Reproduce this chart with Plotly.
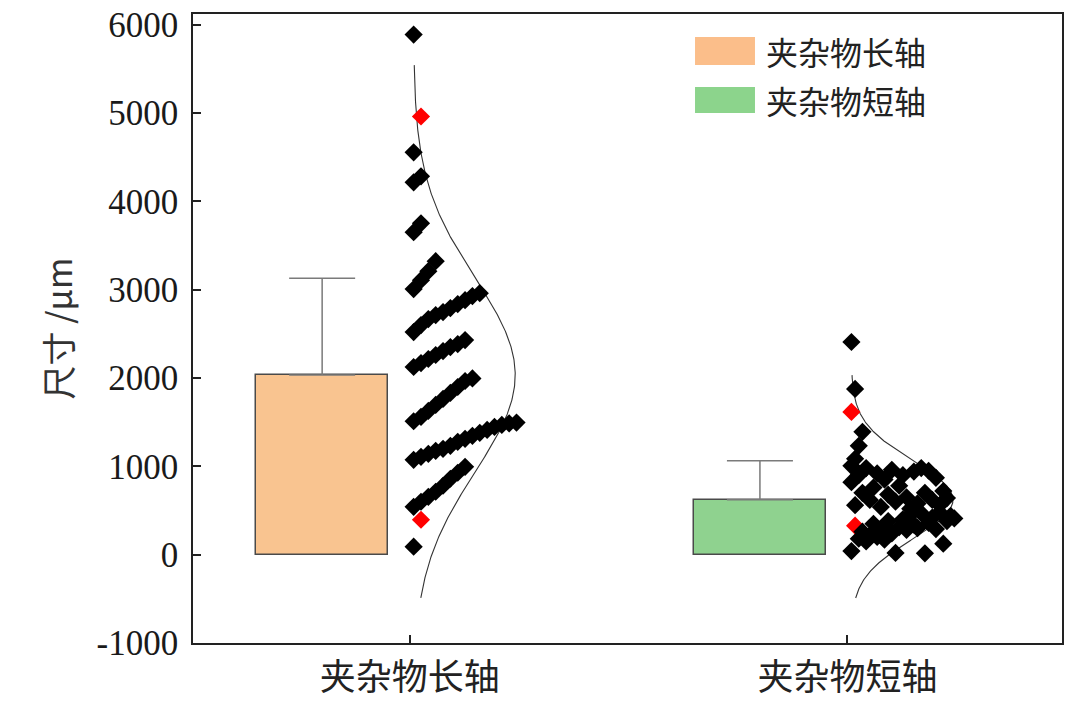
import numpy as np
import plotly.graph_objects as go

# ---------------- data ----------------
categories = ["夹杂物长轴", "夹杂物短轴"]
bar_means = [2034, 621]
bar_sds = [1096, 441]

# long axis sizes (µm), worksheet order (sorted)
long_vals = [90, 395, 542, 599, 655, 712, 780, 859, 927, 994,
             1073, 1107, 1141, 1175, 1198, 1232, 1277, 1311, 1345, 1379,
             1412, 1446, 1469, 1485, 1495,
             1510, 1559, 1627, 1695, 1763, 1831, 1898, 1966, 1995,
             2124, 2169, 2215, 2260, 2305, 2350, 2384, 2429,
             2520, 2599, 2667, 2712, 2746, 2791, 2836, 2881, 2927, 2960,
             3006, 3107, 3209, 3322,
             3650, 3751, 4215, 4282, 4554, 4960, 5887]
long_highlight = [395, 4960]

# short axis sizes (µm), worksheet order
short_vals = [40, 328, 180, 260, 150, 220, 350, 200, 290, 170,
              380, 240, 20, 310, 400, 280, 450, 340, 300, 470,
              15, 360, 420, 290, 480, 124, 380, 440, 410,
              820, 560, 900, 700, 980, 620, 760, 920, 540, 850,
              680, 960, 600, 780, 900, 650, 520, 940, 580, 980,
              700, 950, 620, 870, 560, 720, 640,
              1006, 1085, 1232, 1390,
              1616, 1876,
              2407]
short_highlight = [328, 1616]

y_tickvals = [-1000, 0, 1000, 2000, 3000, 4000, 5000, 6000]
y_ticktext = ["-1000", "0", "1000", "2000", "3000", "4000", "5000", "6000"]

series_vals = [long_vals, short_vals]
series_highlight = [long_highlight, short_highlight]

# ---------------- style ----------------
bar_colors = ["#F9C490", "#8FD28F"]
legend_colors = ["#FBBE8A", "#8CD48C"]
bar_offset = -0.2
bar_width = 0.3
pts_base = 0.009
pts_max_width = 0.235
bin_width = 500
curve_peak = 0.232
curve_low = -490
cjk = "Noto Sans CJK SC"
serif = "Liberation Serif"


def bin_ranks(vals, width):
    counts = {}
    ranks = []
    for v in vals:
        b = int(v // width)
        r = counts.get(b, 0)
        ranks.append(r)
        counts[b] = r + 1
    return np.array(ranks), max(counts.values())


fig = go.Figure()

# bars with upward error bars
for i, cat in enumerate(categories):
    fig.add_trace(go.Bar(
        x=[i + bar_offset], y=[bar_means[i]], width=bar_width,
        marker=dict(color=bar_colors[i], line=dict(color="#4a4a4a", width=1.5)),
        error_y=dict(type="data", symmetric=False, array=[bar_sds[i]],
                     arrayminus=[0], color="#7a7a7a", thickness=1.5, width=33),
        showlegend=False, name=cat))

# normal distribution curves
for i in range(len(categories)):
    m, s = bar_means[i], bar_sds[i]
    yy = np.linspace(curve_low, m + 3.2 * s, 400)
    xx = i + pts_base + curve_peak * np.exp(-0.5 * ((yy - m) / s) ** 2)
    fig.add_trace(go.Scatter(x=xx, y=yy, mode="lines",
                             line=dict(color="#333333", width=1.1),
                             showlegend=False, hoverinfo="skip"))

# data points aligned in bins
for i in range(len(categories)):
    vals = np.array(series_vals[i], dtype=float)
    ranks, maxc = bin_ranks(vals, bin_width)
    step = pts_max_width / (maxc - 1)
    xs = i + pts_base + ranks * step
    cols = ["#FF0000" if v in series_highlight[i] else "#000000" for v in series_vals[i]]
    fig.add_trace(go.Scatter(x=xs, y=vals, mode="markers",
                             marker=dict(symbol="diamond", size=14, color=cols,
                                         line=dict(width=0)),
                             showlegend=False))

# custom legend (paper coords)
leg_y = [(0.9634, 0.9189), (0.8839, 0.8426)]
for i, cat in enumerate(categories):
    fig.add_shape(type="rect", xref="paper", yref="paper",
                  x0=0.5777, x1=0.6467, y0=leg_y[i][1], y1=leg_y[i][0],
                  fillcolor=legend_colors[i], line=dict(width=0))
    fig.add_annotation(xref="paper", yref="paper", x=0.657,
                       y=(leg_y[i][0] + leg_y[i][1]) / 2,
                       text=cat, showarrow=False, xanchor="left", yanchor="middle",
                       font=dict(family=cjk, size=32, color="#222222"))

fig.update_layout(
    width=1080, height=706,
    margin=dict(l=193, r=18, t=14, b=63),
    paper_bgcolor="white", plot_bgcolor="white",
    bargap=0,
)
fig.update_xaxes(
    range=[-0.495, 1.49], tickvals=[0, 1], ticktext=categories,
    ticks="inside", ticklen=8, tickcolor="#222", tickwidth=1.5,
    showline=True, linecolor="#222", linewidth=1.5, mirror=True,
    showgrid=False, zeroline=False, automargin=False,
    tickfont=dict(family=cjk, size=36, color="#222222"),
    ticklabelstandoff=2, ticklabeloverflow="allow",
)
fig.update_yaxes(
    range=[-1000, 6120], tickvals=y_tickvals, ticktext=y_ticktext,
    ticks="inside", ticklen=8, tickcolor="#222", tickwidth=1.5,
    showline=True, linecolor="#222", linewidth=1.5, mirror=True,
    showgrid=False, zeroline=False, automargin=False,
    tickfont=dict(family=serif, size=35, color="#1a1a1a"),
    ticklabelstandoff=6, ticklabeloverflow="allow",
    title=dict(text="尺寸 /μm", font=dict(family=cjk, size=34, color="#333333"),
               standoff=14),
)

fig.write_html("out.html",
               config={"displayModeBar": False},
               post_script="document.body.style.margin='0';"
                           "document.body.style.overflow='hidden';")
